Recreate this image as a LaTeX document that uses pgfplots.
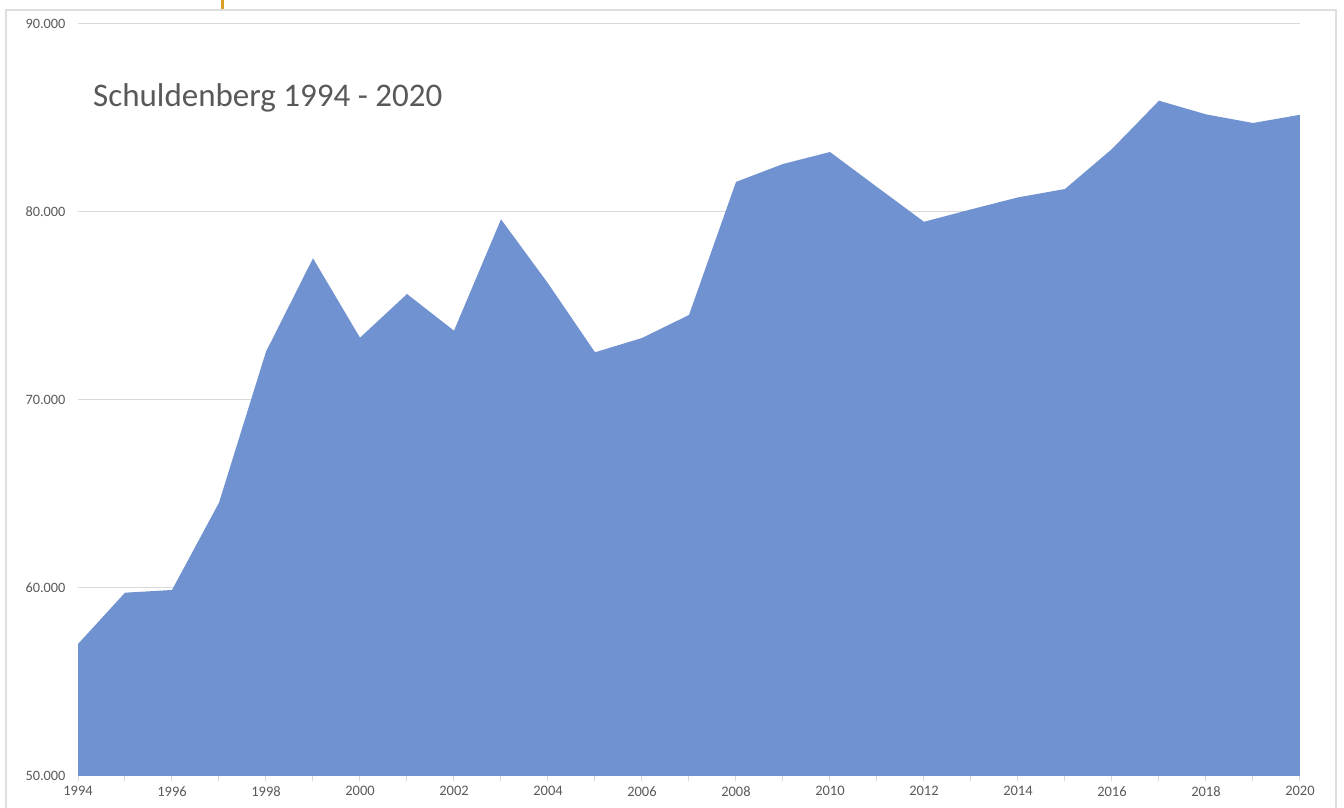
\documentclass[border=0pt]{standalone}
\usepackage{pgfplots}
\pgfplotsset{compat=1.18}
\usepackage{fontspec}
\setmainfont{Carlito}
\definecolor{areablue}{RGB}{112,146,208}
\definecolor{txtgray}{RGB}{89,89,89}
\definecolor{gridgray}{RGB}{217,217,217}
\definecolor{framegray}{RGB}{222,222,222}
\definecolor{markorange}{RGB}{218,160,40}
\begin{document}
\begin{tikzpicture}[x=1pt,y=1pt]
\useasboundingbox (0,0) rectangle (1344,808);
\draw[framegray, line width=1.5pt] (6,-10) rectangle (1336,798);
\fill[markorange] (221,798.7) rectangle (224,808);
\begin{axis}[
  at={(78pt,32pt)}, anchor=south west,
  scale only axis, width=1222pt, height=752pt,
  xmin=1994, xmax=2020, ymin=50000, ymax=90000,
  scaled y ticks=false, scaled x ticks=false,
  xtick={1994,1996,1998,2000,2002,2004,2006,2008,2010,2012,2014,2016,2018,2020},
  minor xtick={1995,1997,1999,2001,2003,2005,2007,2009,2011,2013,2015,2017,2019},
  xticklabel style={/pgf/number format/1000 sep={}, font=\fontsize{14.5}{16}\selectfont, text=txtgray},
  /pgf/number format/assume math mode=true,
  ytick={50000,60000,70000,80000,90000},
  yticklabels={50.000,60.000,70.000,80.000,90.000},
  yticklabel style={font=\fontsize{14.3}{16}\selectfont, text=txtgray},
  axis x line*=bottom, axis y line*=left,
  x axis line style={gridgray, line width=1pt, -},
  y axis line style={draw=none},
  tick align=outside,
  major tick length=5pt, minor tick length=5pt,
  xtick style={gridgray, line width=1pt},
  minor tick style={gridgray, line width=1pt},
  ymajorgrids, grid style={gridgray, line width=1pt},
  ytick style={draw=none},
  xticklabel shift=2pt, yticklabel shift=4pt,
  clip=false,
]
\addplot[fill=areablue, draw=none] coordinates {
(1994,57021) (1995,59750) (1996,59894) (1997,64537) (1998,72569)
(1999,77537) (2000,73314) (2001,75638) (2002,73686) (2003,79611)
(2004,76205) (2005,72537) (2006,73298) (2007,74521) (2008,81600)
(2009,82553) (2010,83191) (2011,81330) (2012,79479) (2013,80138)
(2014,80777) (2015,81223) (2016,83351) (2017,85920) (2018,85193)
(2019,84734) (2020,85170)
} \closedcycle;
\end{axis}
\node[anchor=base west, inner sep=0pt, text=txtgray, font=\fontsize{33}{38}\selectfont] at (93,701) {Schuldenberg 1994 - 2020};
\end{tikzpicture}
\end{document}
